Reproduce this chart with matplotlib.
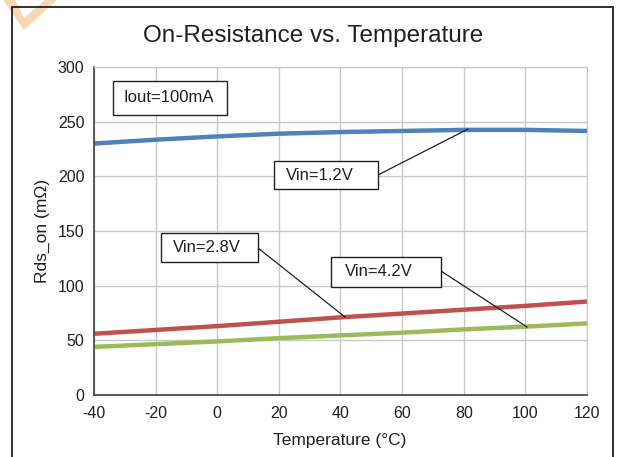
import matplotlib
matplotlib.use("Agg")
import matplotlib.pyplot as plt
from matplotlib.patches import Rectangle, Polygon

plt.rcParams['font.family'] = ['Liberation Sans', 'DejaVu Sans']
plt.rcParams['axes.unicode_minus'] = False

temps = [-40, -20, 0, 20, 40, 60, 80, 100, 120]
vin_12 = [230, 233.5, 236.5, 239, 240.5, 241.5, 242.5, 242.5, 241.5]
vin_28 = [56, 59.5, 63, 67, 71, 74.5, 78, 81.5, 85.5]
vin_42 = [44, 46.5, 49, 52, 54.5, 57, 60, 62.5, 65.5]
x_ticks = [-40, -20, 0, 20, 40, 60, 80, 100, 120]
y_ticks = [0, 50, 100, 150, 200, 250, 300]

W, H = 617, 457
fig = plt.figure(figsize=(W / 100, H / 100), dpi=100)
fig.patch.set_facecolor('white')

def fpt(px, py):
    return [px / W, 1 - py / H]

# watermark chevron
fig.patches.append(Polygon([fpt(3, 0), fpt(24, 30), fpt(57, 0), fpt(45, 0), fpt(24, 18), fpt(15, 0)],
                           closed=True, transform=fig.transFigure, facecolor='#fbd6b3',
                           edgecolor='none', zorder=0))
# outer border
fig.patches.append(Rectangle((12 / W, -0.01), 601 / W, 1 - 7 / H + 0.01, transform=fig.transFigure,
                             fill=False, edgecolor='#202020', linewidth=1.3, zorder=1))

L, R, T, B = 94, 587, 67, 395
ax = fig.add_axes([L / W, 1 - B / H, (R - L) / W, (B - T) / H])
ax.set_xlim(-40, 120)
ax.set_ylim(0, 300)
ax.set_xticks(x_ticks)
ax.set_yticks(y_ticks)
ax.grid(True, color='#c8c8c8', linewidth=1.0)
ax.set_axisbelow(True)
ax.tick_params(length=0, labelsize=11.5, colors='#202020')
ax.tick_params(axis='y', pad=7)
ax.tick_params(axis='x', pad=8)
for s in ['top', 'right']:
    ax.spines[s].set_color('#c8c8c8')
for s in ['left', 'bottom']:
    ax.spines[s].set_color('#404040')
    ax.spines[s].set_linewidth(1.2)

ax.plot(temps, vin_12, color='#4f81bd', linewidth=3.2, solid_capstyle='butt')
ax.plot(temps, vin_28, color='#c0504d', linewidth=3.2, solid_capstyle='butt')
ax.plot(temps, vin_42, color='#9bbb59', linewidth=3.2, solid_capstyle='butt')

def px2d(px, py):
    return (-40 + (px - L) / (R - L) * 160, (B - py) / (B - T) * 300)

def box(x0, y0, x1, y1, text, tx):
    a, b = px2d(x0, y1)
    c, d = px2d(x1, y0)
    ax.add_patch(Rectangle((a, b), c - a, d - b, facecolor='white', edgecolor='#202020',
                           linewidth=1.0, zorder=5))
    t, m = px2d(tx, (y0 + y1) / 2)
    ax.text(t, m, text, ha='left', va='center', fontsize=12, color='#202020', zorder=6)

def leader(p0, p1):
    a = px2d(*p0)
    b = px2d(*p1)
    ax.plot([a[0], b[0]], [a[1], b[1]], color='#202020', linewidth=0.9, zorder=4)

box(113, 81, 227, 115, 'Iout=100mA', 124)
box(274, 161, 378, 189, 'Vin=1.2V', 286)
leader((378, 175), (468, 129))
box(161, 233, 258, 262, 'Vin=2.8V', 173)
leader((258, 248), (345, 317))
box(331, 257, 441, 287, 'Vin=4.2V', 345)
leader((441, 271), (527, 327))

fig.text(313 / W, 1 - 36 / H, 'On-Resistance vs. Temperature', ha='center', va='center',
         fontsize=17.5, color='#202020')
fig.text(340 / W, 1 - 441 / H, 'Temperature (°C)', ha='center', va='center',
         fontsize=12.5, color='#202020')
fig.text(42 / W, 1 - 231 / H, 'Rds_on (mΩ)', ha='center', va='center', rotation=90,
         fontsize=12.5, color='#202020')

fig.savefig('out.png', dpi=100)
